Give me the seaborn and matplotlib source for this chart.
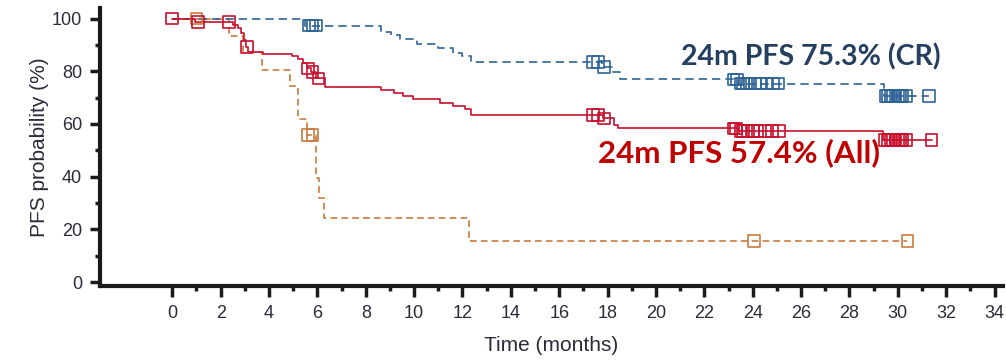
import numpy as np
import pandas as pd
import matplotlib
matplotlib.use("Agg")
import matplotlib.pyplot as plt
from matplotlib.ticker import FixedLocator
import seaborn as sns

# Kaplan-Meier step curves (time in months, PFS in %)
cr_time = [0, 5.5, 8.65, 9.05, 9.4, 10.1, 11.0, 11.6, 12.0, 12.35, 17.75, 18.2, 18.5, 23.4, 29.45, 31.3]
cr_surv = [100, 97.3, 95.0, 93.7, 92.1, 90.2, 88.7, 87.0, 85.8, 83.6, 81.7, 79.8, 76.9, 75.3, 70.6, 70.6]
cr_censor = [5.65, 5.8, 5.95, 17.4, 17.6, 17.85, 23.2, 23.35, 23.5, 23.6, 23.75, 23.9, 24.1,
             24.3, 24.6, 24.85, 25.05, 29.5, 29.6, 29.7, 29.8, 29.9, 30.0, 30.1, 30.2, 30.35, 31.3]

all_time = [0, 0.95, 2.5, 2.7, 2.85, 2.95, 3.05, 3.15, 3.75, 4.95, 5.2, 5.4, 5.55, 5.75, 5.95, 6.3,
            8.65, 9.15, 9.55, 9.95, 11.05, 11.6, 12.1, 12.35, 17.8, 18.25, 18.45, 23.4, 29.4, 31.4]
all_surv = [100, 98.8, 97.5, 96.3, 94.4, 91.9, 89.2, 87.4, 86.5, 85.9, 84.5, 83.2, 81.1, 79.8, 77.3, 74.1,
            72.9, 71.6, 70.6, 69.3, 68.0, 66.8, 65.8, 63.3, 62.1, 59.6, 58.3, 57.4, 53.9, 53.9]
all_censor = [0.0, 1.05, 2.35, 3.1, 5.6, 5.8, 6.05, 17.4, 17.6, 17.85, 23.2, 23.3, 23.5, 23.6, 23.8,
              24.0, 24.2, 24.5, 24.8, 25.1, 29.45, 29.6, 29.7, 29.8, 29.9, 30.0, 30.1, 30.2, 30.35, 31.4]

oth_time = [0, 2.35, 2.93, 3.7, 4.87, 5.19, 5.55, 5.95, 6.07, 6.27, 12.27, 30.4]
oth_surv = [100, 93.4, 87.4, 80.5, 74.4, 61.9, 55.8, 39.4, 31.8, 24.2, 15.7, 15.7]
oth_censor = [1.0, 5.6, 5.8, 24.05, 30.4]

x_ticks = list(range(0, 36, 2))
x_minor = list(range(1, 34, 2))
y_ticks = [0, 20, 40, 60, 80, 100]
y_minor = [10, 30, 50, 70, 90]

label_cr = "24m PFS 75.3% (CR)"
label_all = "24m PFS 57.4% (All)"

sns.set_style("ticks")
plt.rcParams["font.family"] = ["Liberation Sans", "DejaVu Sans"]

fig = plt.figure(figsize=(10.06, 3.63), dpi=100)
ax = fig.add_axes([0.0994, 0.212, 0.8976, 0.766])


def step_value(times, surv, t):
    idx = np.searchsorted(times, t, side="right") - 1
    return surv[max(idx, 0)]


def draw_group(times, surv, censor, color, dashes):
    curve = pd.DataFrame({"t": times, "s": surv})
    line_kw = dict(drawstyle="steps-post", linewidth=1.2, color=color)
    if dashes is not None:
        line_kw["dashes"] = dashes
    sns.lineplot(data=curve, x="t", y="s", ax=ax, estimator=None, sort=False, **line_kw)
    marks = pd.DataFrame({"t": censor, "s": [step_value(times, surv, c) for c in censor]})
    sns.scatterplot(data=marks, x="t", y="s", ax=ax, marker="s", s=70,
                    facecolor="none", edgecolor=color, linewidth=1.2, zorder=4)


draw_group(oth_time, oth_surv, oth_censor, "#c97a3d", (4, 2.5))
draw_group(cr_time, cr_surv, cr_censor, "#2f6496", (5, 3))
draw_group(all_time, all_surv, all_censor, "#c8102e", None)

# Landmark annotations
ax.text(26.4, 85.4, label_cr, color="#243f60", fontsize=20.5, fontweight="bold",
        family=["Lato", "DejaVu Sans"], ha="center", va="center")
ax.text(23.45, 49.2, label_all, color="#c00000", fontsize=22.5, fontweight="bold",
        family=["Lato", "DejaVu Sans"], ha="center", va="center")

ax.set_xlim(-2.99, 34.35)
ax.set_ylim(-1.5, 104)
ax.set_xticks(x_ticks)
ax.set_yticks(y_ticks)
ax.xaxis.set_minor_locator(FixedLocator(x_minor))
ax.yaxis.set_minor_locator(FixedLocator(y_minor))

for side in ["top", "right"]:
    ax.spines[side].set_visible(False)
for side in ["left", "bottom"]:
    ax.spines[side].set_linewidth(3)
    ax.spines[side].set_color("#1a1a1a")

ax.tick_params(axis="both", which="major", length=7, width=2.5, color="#1a1a1a",
               labelsize=13, labelcolor="#2b2b3b")
ax.tick_params(axis="x", which="major", length=8, pad=6)
ax.tick_params(axis="y", which="major", pad=6)
ax.tick_params(axis="both", which="minor", length=3.5, width=2.5, color="#1a1a1a")

ax.set_xlabel("Time (months)", fontsize=15, color="#2b2b3b", labelpad=10)
ax.set_ylabel("PFS probability (%)", fontsize=15, color="#2b2b3b", labelpad=2)

fig.savefig("out.png", dpi=100)
